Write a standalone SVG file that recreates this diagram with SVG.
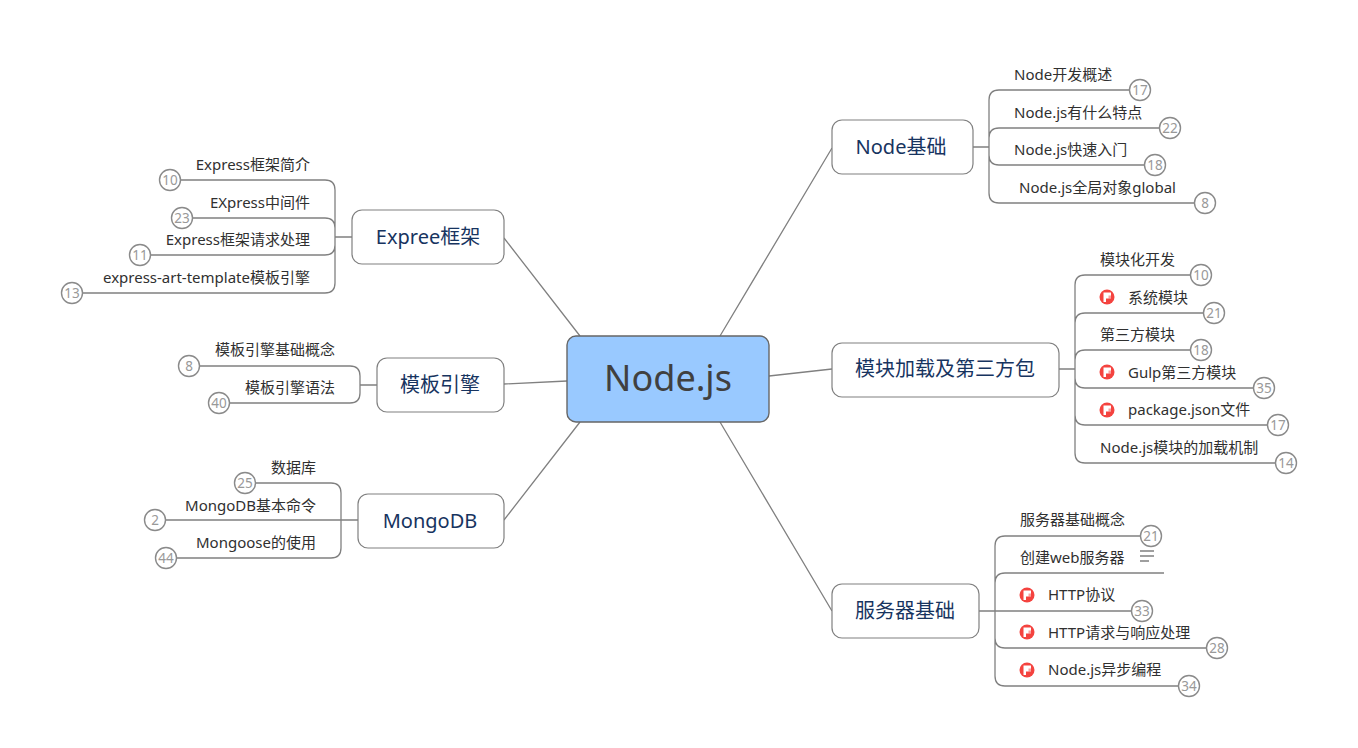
<svg xmlns="http://www.w3.org/2000/svg" width="1358" height="748" viewBox="0 0 1358 748">
<style>
text{font-family:"Noto Sans","Noto Sans CJK SC",sans-serif}
.c{fill:none;stroke:#808080;stroke-width:1.3}
.b{fill:#fff;stroke:#808080;stroke-width:1.2}
.t{font-size:20px;fill:#17345f;text-anchor:middle}
.s{font-size:15px;fill:#303030}
.e{font-size:15px;fill:#303030;text-anchor:end}
.n{fill:#fff;stroke:#8a8a8a;stroke-width:1.4}
.m{font-size:13.5px;fill:#999;text-anchor:middle}
</style>
<defs>
<g id="flag"><circle r="7.5" fill="#f4433f"/><path d="M-3.5 -4.5H4V1.5H-1V5H-3.5Z" fill="#fff"/><path d="M1.5 -1.5L4 -1.5V1.5H1.5Z" fill="#f4433f" opacity=".5"/></g>
</defs>
<rect width="1358" height="748" fill="#fff"/>
<g id="connectors">
<path class="c" d="M580 336L504 238M567 381L504 384M580 422L504 520M720 336L832 148M769 376L832 369M720 422L832 611"/>
<path class="c" d="M973 147H989M989 100Q989 90 999 90H1130M989 193Q989 203 999 203H1194M989 100V193M989 138Q989 128 999 128H1160M989 155Q989 165 999 165H1145"/>
<path class="c" d="M1059 369H1075M1075 285Q1075 275 1085 275H1191M1075 285V453M1075 323Q1075 313 1085 313H1204M1075 360Q1075 350 1085 350H1191M1075 378Q1075 388 1085 388H1254M1075 415Q1075 425 1085 425H1268M1075 453Q1075 463 1085 463H1276"/>
<path class="c" d="M979 611H995M995 546Q995 536 1005 536H1141M995 546V676M995 583Q995 573 1005 573H1164M995 611H1132M995 638Q995 648 1005 648H1207M995 676Q995 686 1005 686H1179"/>
<path class="c" d="M352 237H335M335 190Q335 180 325 180H180M335 190V283M335 228Q335 218 325 218H193M335 245Q335 255 325 255H150M335 283Q335 293 325 293H82"/>
<path class="c" d="M377 385H360M360 376Q360 366 350 366H199M360 376V393M360 393Q360 403 350 403H229"/>
<path class="c" d="M358 520H341M341 493Q341 483 331 483H255M341 493V548M341 520H165M341 548Q341 558 331 558H176"/>
</g>
<g id="root"><rect x="567" y="336" width="202" height="86" rx="9" fill="#99c9ff" stroke="#666" stroke-width="1.4"/><text x="668" y="391" text-anchor="middle" font-size="36" fill="#404040">Node.js</text></g>
<g id="node-basic"><rect class="b" x="832" y="120" width="141" height="54" rx="10"/><text class="t" x="901" y="154">Node基础</text></g>
<g id="node-modules"><rect class="b" x="832" y="343" width="227" height="54" rx="10"/><text class="t" x="945" y="376">模块加载及第三方包</text></g>
<g id="node-server"><rect class="b" x="832" y="584" width="147" height="54" rx="10"/><text class="t" x="905" y="618">服务器基础</text></g>
<g id="node-express"><rect class="b" x="352" y="210" width="152" height="54" rx="10"/><text class="t" x="428" y="244">Expree框架</text></g>
<g id="node-template"><rect class="b" x="377" y="358" width="127" height="54" rx="10"/><text class="t" x="440" y="392">模板引擎</text></g>
<g id="node-mongodb"><rect class="b" x="358" y="494" width="146" height="54" rx="10"/><text class="t" x="430" y="528">MongoDB</text></g>

<g id="basic-1"><text class="s" x="1014" y="80">Node开发概述</text><circle class="n" cx="1140" cy="90" r="10.5"/><text class="m" x="1140" y="95">17</text></g>
<g id="basic-2"><text class="s" x="1014" y="118">Node.js有什么特点</text><circle class="n" cx="1170" cy="128" r="10.5"/><text class="m" x="1170" y="133">22</text></g>
<g id="basic-3"><text class="s" x="1014" y="155">Node.js快速入门</text><circle class="n" cx="1155" cy="165" r="10.5"/><text class="m" x="1155" y="170">18</text></g>
<g id="basic-4"><text class="s" x="1019" y="193">Node.js全局对象global</text><circle class="n" cx="1205" cy="203" r="10.5"/><text class="m" x="1205" y="208">8</text></g>

<g id="mod-1"><text class="s" x="1100" y="265">模块化开发</text><circle class="n" cx="1201" cy="275" r="10.5"/><text class="m" x="1201" y="280">10</text></g>
<g id="mod-2"><use href="#flag" x="1107" y="297"/><text class="s" x="1128" y="303">系统模块</text><circle class="n" cx="1214" cy="313" r="10.5"/><text class="m" x="1214" y="318">21</text></g>
<g id="mod-3"><text class="s" x="1100" y="340">第三方模块</text><circle class="n" cx="1201" cy="350" r="10.5"/><text class="m" x="1201" y="355">18</text></g>
<g id="mod-4"><use href="#flag" x="1107" y="372"/><text class="s" x="1128" y="378">Gulp第三方模块</text><circle class="n" cx="1264" cy="388" r="10.5"/><text class="m" x="1264" y="393">35</text></g>
<g id="mod-5"><use href="#flag" x="1107" y="410"/><text class="s" x="1128" y="415">package.json文件</text><circle class="n" cx="1278" cy="425" r="10.5"/><text class="m" x="1278" y="430">17</text></g>
<g id="mod-6"><text class="s" x="1100" y="453">Node.js模块的加载机制</text><circle class="n" cx="1286" cy="463" r="10.5"/><text class="m" x="1286" y="468">14</text></g>

<g id="srv-1"><text class="s" x="1020" y="525">服务器基础概念</text><circle class="n" cx="1151" cy="536" r="10.5"/><text class="m" x="1151" y="541">21</text></g>
<g id="srv-2"><text class="s" x="1020" y="563">创建web服务器</text><path d="M1140 551H1154M1140 556H1154M1140 561H1149" fill="none" stroke="#808080" stroke-width="1.3"/></g>
<g id="srv-3"><use href="#flag" x="1027" y="595"/><text class="s" x="1048" y="600">HTTP协议</text><circle class="n" cx="1142" cy="611" r="10.5"/><text class="m" x="1142" y="616">33</text></g>
<g id="srv-4"><use href="#flag" x="1027" y="632"/><text class="s" x="1048" y="638">HTTP请求与响应处理</text><circle class="n" cx="1217" cy="648" r="10.5"/><text class="m" x="1217" y="653">28</text></g>
<g id="srv-5"><use href="#flag" x="1027" y="670"/><text class="s" x="1048" y="675">Node.js异步编程</text><circle class="n" cx="1189" cy="686" r="10.5"/><text class="m" x="1189" y="691">34</text></g>

<g id="exp-1"><text class="e" x="310" y="170">Express框架简介</text><circle class="n" cx="170" cy="180" r="10.5"/><text class="m" x="170" y="185">10</text></g>
<g id="exp-2"><text class="e" x="310" y="208">EXpress中间件</text><circle class="n" cx="182" cy="218" r="10.5"/><text class="m" x="182" y="223">23</text></g>
<g id="exp-3"><text class="e" x="310" y="245">Express框架请求处理</text><circle class="n" cx="140" cy="255" r="10.5"/><text class="m" x="140" y="260">11</text></g>
<g id="exp-4"><text class="e" x="310" y="283">express-art-template模板引擎</text><circle class="n" cx="72" cy="293" r="10.5"/><text class="m" x="72" y="298">13</text></g>

<g id="tpl-1"><text class="e" x="335" y="355">模板引擎基础概念</text><circle class="n" cx="189" cy="366" r="10.5"/><text class="m" x="189" y="371">8</text></g>
<g id="tpl-2"><text class="e" x="335" y="393">模板引擎语法</text><circle class="n" cx="219" cy="403" r="10.5"/><text class="m" x="219" y="408">40</text></g>

<g id="db-1"><text class="e" x="316" y="473">数据库</text><circle class="n" cx="245" cy="483" r="10.5"/><text class="m" x="245" y="488">25</text></g>
<g id="db-2"><text class="e" x="316" y="511">MongoDB基本命令</text><circle class="n" cx="155" cy="520" r="10.5"/><text class="m" x="155" y="525">2</text></g>
<g id="db-3"><text class="e" x="316" y="548">Mongoose的使用</text><circle class="n" cx="166" cy="558" r="10.5"/><text class="m" x="166" y="563">44</text></g>
</svg>
